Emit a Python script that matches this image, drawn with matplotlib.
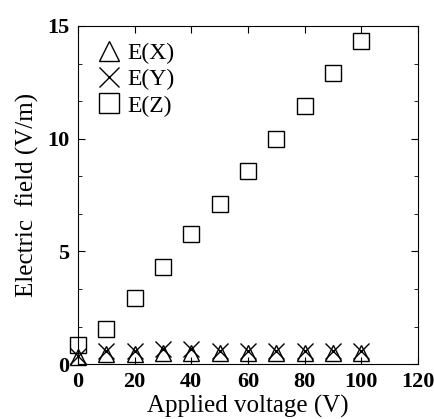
import matplotlib.pyplot as plt
from matplotlib.ticker import MultipleLocator

voltage = [0, 10, 20, 30, 40, 50, 60, 70, 80, 90, 100]
e_x = [0.3, 0.45, 0.45, 0.5, 0.5, 0.5, 0.5, 0.5, 0.5, 0.5, 0.5]
e_y = [0.35, 0.6, 0.6, 0.65, 0.65, 0.6, 0.6, 0.6, 0.6, 0.6, 0.6]
e_z = [0.85, 1.55, 2.95, 4.3, 5.75, 7.1, 8.55, 10.0, 11.45, 12.9, 14.35]

plt.rcParams["font.family"] = "Liberation Serif"

fig = plt.figure(figsize=(4.35, 4.19), dpi=100)
ax = fig.add_axes([0.179, 0.131, 0.782, 0.807])

ax.plot(voltage, e_x, "^", mfc="none", mec="black", ms=11, mew=1,
        label="E(X)", clip_on=False)
ax.plot(voltage, e_y, "x", color="black", ms=11, mew=1,
        label="E(Y)", clip_on=False)
ax.plot(voltage, e_z, "s", mfc="none", mec="black", ms=11, mew=1,
        label="E(Z)", clip_on=False)

ax.set_xlim(0, 120)
ax.set_ylim(0, 15)
ax.xaxis.set_major_locator(MultipleLocator(20))
ax.yaxis.set_major_locator(MultipleLocator(5))
ax.yaxis.set_minor_locator(MultipleLocator(5 / 3))
ax.tick_params(which="both", direction="in", top=True, right=True)
ax.tick_params(which="major", length=5, pad=6)
ax.tick_params(which="minor", length=3)
for lbl in ax.get_xticklabels() + ax.get_yticklabels():
    lbl.set_fontweight("bold")
    lbl.set_fontsize(16)

ax.set_xlabel("Applied voltage (V)", fontsize=18, labelpad=2)
ax.set_ylabel("Electric  field (V/m)", fontsize=18, labelpad=6)
ax.legend(loc="upper left", frameon=False, fontsize=17, handletextpad=0.2,
          labelspacing=0.2, borderaxespad=0.3, handlelength=1.2,
          markerscale=1.3)

plt.savefig("out.png")
